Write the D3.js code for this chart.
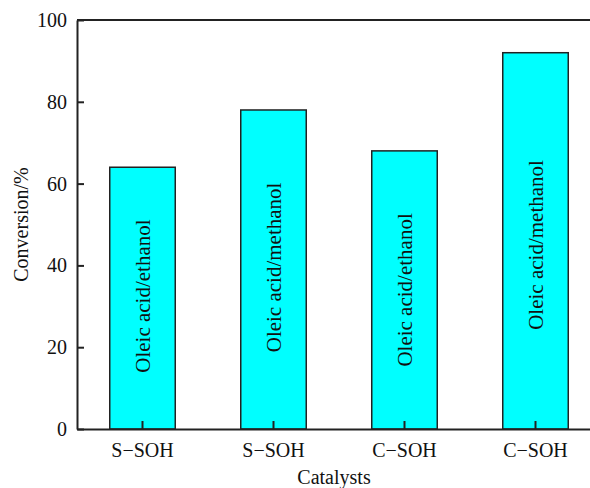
<!DOCTYPE html>
<html lang="en">
<head>
<meta charset="utf-8" />
<title>Conversion by catalyst</title>
<style>
    body { margin: 0; background: #fff; }
    svg text { font-family: "Liberation Serif", "Times New Roman", serif; fill: #111; }
    .axis path, .axis line { fill: none; stroke: #222; stroke-width: 2px; }
    .axis text { font-size: 20px; }
</style>
</head>
<body>
<div id="graph"></div>
<script src="https://d3js.org/d3.v7.min.js"></script>
<script>
    var catalysts = ["S\u2212SOH", "S\u2212SOH", "C\u2212SOH", "C\u2212SOH"];
    var systems = ["Oleic acid/ethanol", "Oleic acid/methanol", "Oleic acid/ethanol", "Oleic acid/methanol"];
    var conversion = [64, 78, 68, 92];
    var yTicks = [0, 20, 40, 60, 80, 100];
    // where the rotated label sits inside each bar (value units, label centre)
    var labelAt = [32.5, 39.5, 34, 45];

    var data = conversion.map(function (v, i) {
        return { id: i, cat: catalysts[i], sys: systems[i], value: v, lab: labelAt[i] };
    });

    var width = 590, height = 488;
    var plot = { left: 77, right: 601, top: 20, bottom: 429 };

    var svg = d3.select("#graph").append("svg")
        .attr("width", width)
        .attr("height", height);

    var x = d3.scaleBand()
        .domain(data.map(function (d) { return d.id; }))
        .range([plot.left, plot.right])
        .paddingInner(0.5)
        .paddingOuter(0.25);

    var y = d3.scaleLinear()
        .domain([0, 100])
        .range([plot.bottom, plot.top]);

    svg.selectAll("rect.bar")
        .data(data)
        .enter().append("rect")
        .attr("class", "bar")
        .attr("x", function (d) { return x(d.id); })
        .attr("y", function (d) { return y(d.value); })
        .attr("width", x.bandwidth())
        .attr("height", function (d) { return y(0) - y(d.value); })
        .attr("fill", "#00ffff")
        .attr("stroke", "#222")
        .attr("stroke-width", 1.5);

    svg.selectAll("text.sys")
        .data(data)
        .enter().append("text")
        .attr("class", "sys")
        .attr("transform", function (d) {
            return "translate(" + (x(d.id) + x.bandwidth() / 2 + 7) + "," + y(d.lab) + ") rotate(-90)";
        })
        .attr("text-anchor", "middle")
        .style("font-size", "21px")
        .text(function (d) { return d.sys; });

    // top frame line
    svg.append("line")
        .attr("x1", plot.left).attr("x2", plot.right)
        .attr("y1", plot.top).attr("y2", plot.top)
        .attr("stroke", "#222")
        .attr("stroke-width", 2);

    var xAxis = d3.axisBottom(x)
        .tickSize(-8)
        .tickSizeOuter(0)
        .tickPadding(14)
        .tickFormat(function (i) { return catalysts[i]; });

    svg.append("g")
        .attr("class", "x axis")
        .attr("transform", "translate(0," + plot.bottom + ")")
        .call(xAxis);

    var yAxis = d3.axisLeft(y)
        .tickValues(yTicks)
        .tickSize(-7)
        .tickSizeOuter(0)
        .tickPadding(10);

    svg.append("g")
        .attr("class", "y axis")
        .attr("transform", "translate(" + plot.left + ",0)")
        .call(yAxis);

    svg.append("text")
        .attr("transform", "translate(28," + ((plot.top + plot.bottom) / 2) + ") rotate(-90)")
        .attr("text-anchor", "middle")
        .style("font-size", "20px")
        .text("Conversion/%");

    svg.append("text")
        .attr("x", 334)
        .attr("y", 484)
        .attr("text-anchor", "middle")
        .style("font-size", "20px")
        .text("Catalysts");
</script>
</body>
</html>
